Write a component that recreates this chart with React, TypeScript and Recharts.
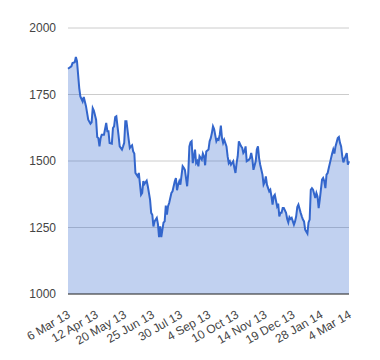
import React from "react";
import { AreaChart, Area, XAxis, YAxis, CartesianGrid, ReferenceLine } from "recharts";

// trading-day index and index value
const days = [0,3,4,6,7,8,10,11,13,14,16,18,20,21,22,23,25,26,27,28,29,30,32,34,35,36,37,39,40,41,42,43,45,46,48,49,50,51,52,54,55,56,57,58,59,60,62,63,65,66,67,68,70,71,73,74,75,76,77,79,80,81,82,83,84,85,86,87,88,89,90,92,93,95,96,97,98,99,100,102,103,104,106,107,108,109,110,111,113,114,115,116,117,119,120,121,122,123,125,126,127,128,129,130,132,133,134,135,136,137,138,139,141,142,143,144,145,147,148,149,150,151,152,154,155,156,157,158,159,161,162,163,164,165,167,168,169,170,171,173,174,175,176,177,179,180,181,182,183,184,186,187,188,189,190,191,192,194,195,196,197,198,199,201,202,203,204,205,207,208,209,210,211,213,214,215,216,217,218,220,221,222,223,224,226,227,228,229,230,231,232,233,235,236,237,238,240,241,242,243,244,245,246,248,249,250];
const values = [1847,1856,1868,1871,1891,1875,1774,1743,1724,1741,1706,1655,1640,1645,1699,1690,1655,1590,1586,1555,1586,1599,1599,1643,1612,1612,1568,1565,1624,1630,1665,1668,1595,1555,1543,1555,1568,1649,1649,1580,1549,1555,1559,1536,1528,1455,1442,1455,1373,1380,1424,1414,1426,1405,1355,1305,1298,1254,1273,1286,1264,1214,1254,1214,1242,1269,1273,1332,1298,1330,1342,1380,1386,1424,1436,1390,1411,1424,1411,1480,1474,1467,1405,1455,1555,1570,1574,1492,1543,1492,1499,1480,1518,1505,1528,1518,1484,1536,1543,1574,1586,1605,1630,1620,1574,1583,1580,1599,1633,1586,1568,1580,1555,1518,1492,1499,1486,1499,1474,1455,1492,1518,1574,1555,1549,1530,1536,1555,1499,1505,1511,1530,1508,1467,1499,1543,1555,1511,1486,1449,1411,1420,1442,1411,1386,1392,1367,1336,1367,1373,1330,1340,1292,1305,1305,1323,1323,1305,1282,1269,1289,1282,1286,1261,1273,1292,1327,1336,1305,1292,1280,1273,1242,1227,1269,1280,1392,1398,1392,1361,1380,1367,1323,1355,1430,1436,1424,1398,1449,1455,1474,1492,1528,1543,1528,1555,1586,1590,1568,1555,1518,1495,1508,1530,1486,1499];

const xTicks = [0,25,50,75,100,125,150,175,200,225,250];
const xLabels = ["6 Mar 13","12 Apr 13","20 May 13","25 Jun 13","30 Jul 13","4 Sep 13","10 Oct 13","14 Nov 13","19 Dec 13","28 Jan 14","4 Mar 14"];
const yTicks = [1000,1250,1500,1750,2000];

const data = days.map((d, i) => ({ day: d, value: values[i] }));

const FONT = "Arial, 'Liberation Sans', sans-serif";

const XTick = (props: any) => {
  const { x, y, payload } = props;
  const idx = xTicks.indexOf(payload.value);
  const label = idx >= 0 ? xLabels[idx] : "";
  const ax = x + 3;
  const ay = y + 15;
  return (
    <text
      x={ax}
      y={ay}
      textAnchor="end"
      fontSize={12}
      fontFamily={FONT}
      fill="#444"
      transform={`rotate(-30, ${ax}, ${ay})`}
    >
      {label}
    </text>
  );
};

export default function App() {
  return (
    <AreaChart
      width={372}
      height={352}
      data={data}
      margin={{ top: 20, right: 31, left: 0, bottom: 0 }}
    >
      <CartesianGrid vertical={false} stroke="#ccc" />
      <XAxis
        dataKey="day"
        type="number"
        domain={[0, 250]}
        ticks={xTicks}
        interval={0}
        tick={<XTick />}
        tickLine={false}
        axisLine={false}
        height={66}
      />
      <YAxis
        domain={[1000, 2000]}
        ticks={yTicks}
        width={60}
        tickLine={false}
        axisLine={false}
        tickSize={0}
        tickMargin={12}
        tick={{ fontSize: 12, fontFamily: FONT, fill: "#444" }}
      />
      <Area
        type="linear"
        dataKey="value"
        stroke="#3366cc"
        strokeWidth={2}
        fill="#3366cc"
        fillOpacity={0.3}
        isAnimationActive={false}
        dot={false}
        activeDot={false}
      />
      <ReferenceLine y={1000} stroke="#333" strokeWidth={1} />
    </AreaChart>
  );
}
